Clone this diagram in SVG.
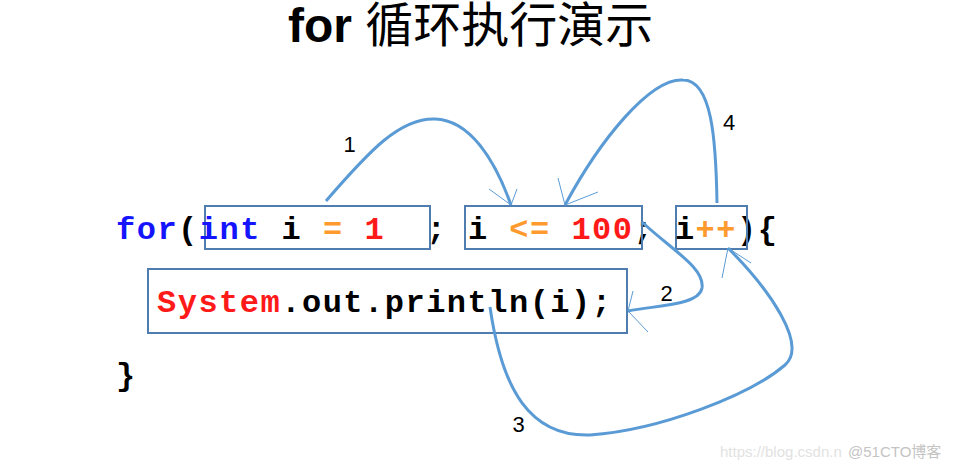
<svg xmlns="http://www.w3.org/2000/svg" width="956" height="468" viewBox="0 0 956 468" xml:space="preserve">
<style>
.title{font-family:"Liberation Sans","Noto Sans CJK SC",sans-serif;font-size:48px;fill:#000}
.code{font-family:"Liberation Mono","DejaVu Sans Mono",monospace;font-weight:bold;font-size:32px;letter-spacing:1.5px;fill:#000;white-space:pre}
.kw{fill:#1414ff}
.op{fill:#ff9a2e}
.num{fill:#ff1a1a}
.red{fill:#ff1a1a}
.box{fill:none;stroke:#4f7db0;stroke-width:2}
.conn{fill:none;stroke:#5b9bd5;stroke-width:3}
.head{fill:none;stroke:#5b9bd5;stroke-width:1}
.lbl{font-family:"Liberation Sans",Arial,sans-serif;font-size:22px;fill:#000;text-anchor:middle}
.wm{font-family:"Liberation Sans","Noto Sans CJK SC",sans-serif;font-size:15px}
</style>
<rect width="956" height="468" fill="#fff"/>
<g id="title">
<text class="title" x="288" y="42"><tspan font-weight="bold">for</tspan> 循环执行演示</text>
</g>
<g id="code-plain">
<text class="code" x="116" y="239"><tspan class="kw">for</tspan>(</text>
<text class="code" x="426.5" y="239">;</text>
<text class="code" x="633.5" y="239">;</text>
<text class="code" x="737" y="239">){</text>
<text class="code" x="116" y="385">}</text>
</g>
<g id="init">
<rect class="box" x="205" y="206" width="225" height="43"/>
<text class="code" x="198.8" y="239"><tspan class="kw">int</tspan> i <tspan class="op">=</tspan> <tspan class="num">1</tspan></text>
</g>
<g id="cond">
<rect class="box" x="465" y="206" width="177" height="43"/>
<text class="code" x="467.9" y="239">i <tspan class="op">&lt;=</tspan> <tspan class="num">100</tspan></text>
</g>
<g id="update">
<rect class="box" x="676" y="206" width="71" height="43"/>
<text class="code" x="674.9" y="239">i<tspan class="op">++</tspan></text>
</g>
<g id="body">
<rect class="box" x="148" y="269" width="479" height="64"/>
<text class="code" x="157" y="312"><tspan class="red">System</tspan>.out.println(i);</text>
</g>
<g id="connectors">
<g id="c1">
<path class="conn" d="M326,201 C370,150 400,118 435,119 C470,120 495,160 511,205"/>
<path class="head" d="M489,189 L511,205 L517,189"/>
<text class="lbl" x="349.5" y="152">1</text>
</g>
<g id="c2">
<path class="conn" d="M642,222 C672,250 705,268 702,288 C699,305 660,305 628,311"/>
<path class="head" d="M633,291 L628,311 L648,332"/>
<text class="lbl" x="666.5" y="301">2</text>
</g>
<g id="c3">
<path class="conn" d="M490,307 C502,390 530,437 590,435 C660,430 750,395 785,365 C808,345 770,290 728,248"/>
<path class="head" d="M722,278 L728,248 L751,263"/>
<text class="lbl" x="518.5" y="432">3</text>
</g>
<g id="c4">
<path class="conn" d="M717,203 C716,140 712,80 683,80 C650,78 600,140 565,205"/>
<path class="head" d="M558,178 L565,205 L598,192"/>
<text class="lbl" x="729" y="130">4</text>
</g>
</g>
<g id="watermark">
<text class="wm" x="720" y="457" fill="#e2e2e2">https://blog.csdn.n</text>
<text class="wm" x="848" y="457" fill="#c4c4c4">@51CTO博客</text>
</g>
</svg>
